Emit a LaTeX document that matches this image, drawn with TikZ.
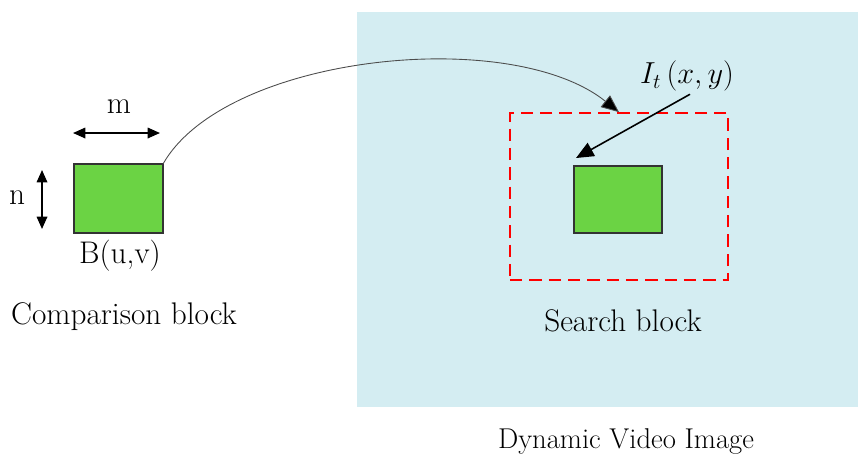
\documentclass[tikz,border=0pt]{standalone}
\usepackage{fontspec}
\usetikzlibrary{arrows.meta,positioning,calc}
\definecolor{frm}{HTML}{D4EDF2}
\definecolor{blkg}{HTML}{6BD344}

\begin{document}
\begin{tikzpicture}[x=0.02cm,y=-0.02cm,
			txt/.style = {font=\fontsize{17.8}{21}\selectfont, inner sep=0pt},
			blk/.style = {draw=black!80, fill=blkg, line width=0.8pt, inner sep=0pt, outer sep=0pt},
			dim/.style = {draw, line width=0.9pt,
				{Triangle[length=7pt, width=6pt]}-{Triangle[length=7pt, width=6pt]}},
			lnk/.style = {draw, black!70, line width=0.5pt, -{Triangle[length=10pt, width=8.5pt, fill=black]}},
			La/.style = {draw, line width=0.9pt, -{Triangle[length=10pt, width=8.5pt]}},
			]
	\useasboundingbox (0,0) rectangle (858,454);

	% video frame and search window
	\node[fill=frm, minimum width=10.02cm, minimum height=7.9cm, inner sep=0pt] (frame) at (607.5,209.5) {};
	\node[draw=red, dash pattern=on 7pt off 4pt, line width=1pt,
		minimum width=4.36cm, minimum height=3.34cm, inner sep=0pt] (win) at (619,196.5) {};

	% the two blocks
	\node[blk, minimum width=1.78cm, minimum height=1.38cm] (cmp) at (118.5,198.5) {};
	\node[blk, minimum width=1.76cm, minimum height=1.34cm] (srch) at (618,199.5) {};

	% sizes m and n
	\draw[dim] ($(cmp.north west)+(-1,-31)$) -- ($(cmp.north east)+(-3,-31)$);    % <---
	\draw[dim] ($(cmp.north west)+(-32,6)$) -- ($(cmp.south west)+(-32,-4)$);
	\node[txt] (m) at (119,107) {m};
	\node[txt] (n) at (17,198) {n};

	% labels
	\node[txt] (buv) at (120,256) {B(u,v)};
	\node[txt] (cmpl) at (124,317) {Comparison block};
	\node[txt] (srchl) at (623,321) {Search block};
	\node[font=\fontsize{16.3}{19}\selectfont, inner sep=0pt] (dvi) at (626,441) {Dynamic Video Image};
	\node[font=\fontsize{18.5}{21}\selectfont, inner sep=1pt] (it) at (687,76) {$I_t\,(x,y)$};

	% block moved into the window
	\draw[lnk] (cmp.north east) .. controls (225,55) and (510,25) .. (win.north);
	\draw[La] ($(it.south)+(3,1)$) -- ($(srch.north west)+(2,-8)$);

\end{tikzpicture}
\end{document}
